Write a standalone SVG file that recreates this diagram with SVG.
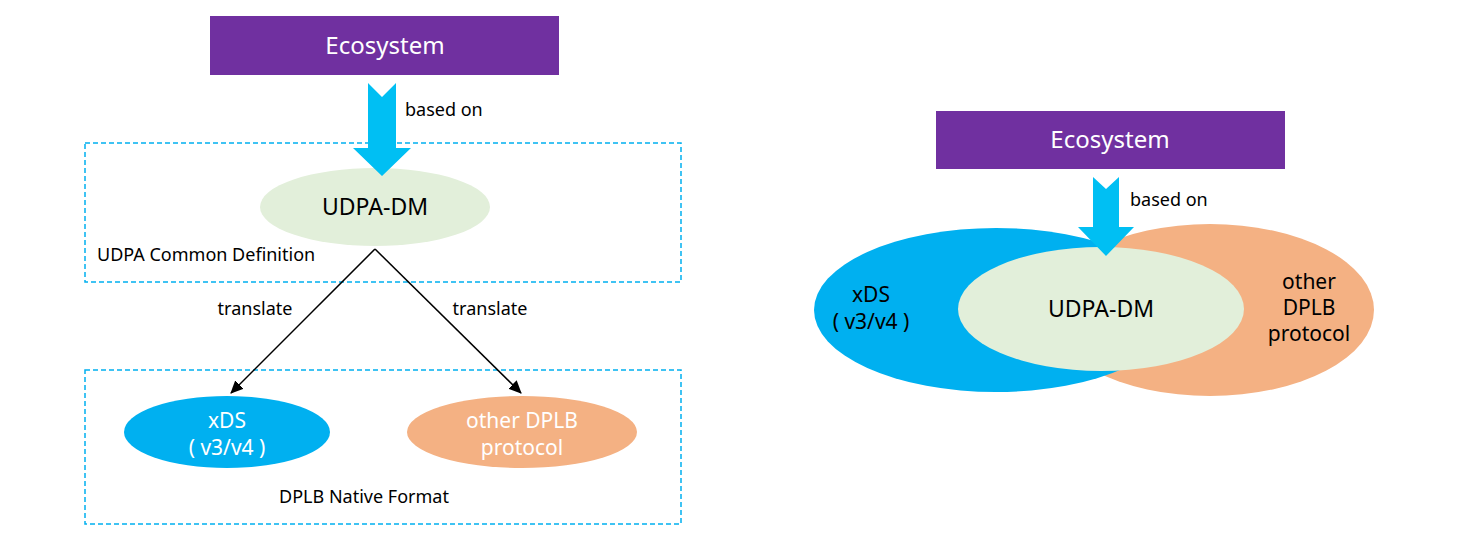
<svg xmlns="http://www.w3.org/2000/svg" width="1484" height="548" viewBox="0 0 1484 548">
<style>
text{font-family:"Noto Sans","Open Sans","Liberation Sans",sans-serif;}
.eco{fill:#7030A0;}
.ecot{fill:#fff;font-size:24px;text-anchor:middle;}
.lbl{fill:#000;font-size:18px;}
.mid{text-anchor:middle;}
.box{fill:none;stroke:#00B0F0;stroke-width:1.5;stroke-dasharray:5,3;}
.barrow{fill:#00BFF3;}
.green{fill:#E2EFDA;}
.blue{fill:#00B0F0;}
.orange{fill:#F4B183;}
.wt{fill:#fff;font-size:21px;text-anchor:middle;}
.bt{fill:#000;font-size:21px;text-anchor:middle;}
.bt2{fill:#000;font-size:23px;text-anchor:middle;}
.conn{stroke:#000;stroke-width:1.5;fill:none;marker-end:url(#ah);}
</style>
<defs>
<marker id="ah" markerWidth="13" markerHeight="12" refX="12" refY="6" orient="auto" markerUnits="userSpaceOnUse" viewBox="0 0 13 12">
<path d="M0,0 L13,6 L0,12 z" fill="#000"/>
</marker>
</defs>
<rect width="1484" height="548" fill="#fff"/>

<!-- Left diagram -->
<g id="box-common"><rect class="box" x="85" y="143" width="596" height="139"/><text class="lbl" x="97" y="261">UDPA Common Definition</text></g>
<g id="box-native"><rect class="box" x="85" y="370" width="596" height="154"/><text class="lbl mid" x="364" y="503">DPLB Native Format</text></g>

<g id="eco-left"><rect class="eco" x="210" y="16" width="349" height="59"/><text class="ecot" x="385" y="54">Ecosystem</text></g>
<g id="udpa-left"><ellipse class="green" cx="375" cy="207" rx="115" ry="39"/><text class="bt2" x="375" y="215">UDPA-DM</text></g>
<g id="xds-left"><ellipse class="blue" cx="227" cy="432" rx="103" ry="36"/><text class="wt" x="227" y="428">xDS<tspan x="227" dy="27">( v3/v4 )</tspan></text></g>
<g id="other-left"><ellipse class="orange" cx="522" cy="432" rx="115" ry="36"/><text class="wt" x="522" y="428">other DPLB<tspan x="522" dy="27">protocol</tspan></text></g>

<g id="connectors-left">
<polygon class="barrow" points="368,83 382,97 396,83 396,148 411,148 382,176 353,148 368,148"/>
<text class="lbl" x="405" y="116">based on</text>
<line class="conn" x1="375" y1="249" x2="231" y2="393"/>
<line class="conn" x1="375" y1="249" x2="521" y2="393"/>
<text class="lbl mid" x="255" y="315">translate</text>
<text class="lbl mid" x="490" y="315">translate</text>
</g>

<!-- Right diagram -->
<g id="eco-right"><rect class="eco" x="936" y="111" width="349" height="58"/><text class="ecot" x="1110" y="148">Ecosystem</text></g>
<g id="other-right"><ellipse class="orange" cx="1210" cy="310" rx="164" ry="86"/><text class="bt" x="1309" y="289">other<tspan x="1309" dy="26">DPLB</tspan><tspan x="1309" dy="26">protocol</tspan></text></g>
<g id="xds-right"><ellipse class="blue" cx="996" cy="310" rx="182" ry="82"/><text class="bt" x="871" y="302">xDS<tspan x="871" dy="27">( v3/v4 )</tspan></text></g>
<g id="udpa-right"><ellipse class="green" cx="1101" cy="309" rx="143" ry="62"/><text class="bt2" x="1101" y="317">UDPA-DM</text></g>
<g id="connectors-right">
<polygon class="barrow" points="1093,177 1106,189 1119,177 1119,227 1134,227 1106,256 1078,227 1093,227"/>
<text class="lbl" x="1130" y="206">based on</text>
</g>
</svg>
